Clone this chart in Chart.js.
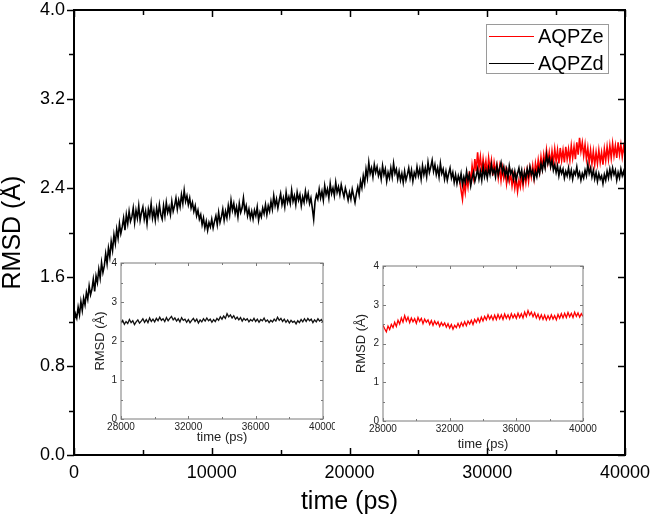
<!DOCTYPE html>
<html>
<head>
<meta charset="utf-8">
<script src="https://cdn.jsdelivr.net/npm/chart.js@4.4.1/dist/chart.umd.min.js"></script>
<style>
  body { margin: 0; background: #fff; }
  #wrap { position: relative; width: 651px; height: 517px; }
  canvas { position: absolute; }
</style>
</head>
<body>
<div id="wrap">
  <canvas id="mainChart" width="651" height="517" style="left:0;top:0"></canvas>
  <canvas id="insetD" width="245" height="200" style="left:90px;top:250px"></canvas>
  <canvas id="insetE" width="250" height="205" style="left:350px;top:250px"></canvas>
</div>
<script>
// ===== DADOS =====
// AQPZd: RMSD (Å) a cada 100 ps, de 0 a 40000 ps (uma linha = 1000 ps)
const aqpzdStart = 0;
const aqpzdStep = 100;
const aqpzdRmsd = [
  1.20, 1.27, 1.23, 1.33, 1.26, 1.38, 1.30, 1.41, 1.35, 1.46,
  1.40, 1.52, 1.44, 1.49, 1.58, 1.47, 1.61, 1.55, 1.67, 1.59,
  1.73, 1.64, 1.70, 1.81, 1.72, 1.86, 1.78, 1.92, 1.84, 1.98,
  1.90, 2.03, 1.95, 2.08, 1.99, 2.05, 2.13, 2.02, 2.16, 2.08,
  2.19, 2.10, 2.14, 2.22, 2.09, 2.20, 2.13, 2.24, 2.11, 2.18,
  2.23, 2.12, 2.19, 2.08, 2.21, 2.15, 2.26, 2.13, 2.20, 2.11,
  2.22, 2.14, 2.25, 2.16, 2.12, 2.24, 2.15, 2.27, 2.18, 2.23,
  2.16, 2.28, 2.19, 2.24, 2.31, 2.21, 2.29, 2.23, 2.34, 2.26,
  2.38, 2.28, 2.33, 2.25, 2.31, 2.22, 2.27, 2.19, 2.24, 2.15,
  2.20, 2.12, 2.16, 2.07, 2.13, 2.04, 2.10, 2.02, 2.09, 2.05,
  2.12, 2.04, 2.10, 2.15, 2.07, 2.18, 2.09, 2.14, 2.21, 2.11,
  2.19, 2.13, 2.24, 2.16, 2.29, 2.20, 2.26, 2.17, 2.23, 2.14,
  2.26, 2.18, 2.22, 2.31, 2.19, 2.24, 2.15, 2.21, 2.13, 2.19,
  2.12, 2.20, 2.15, 2.23, 2.11, 2.18, 2.14, 2.22, 2.17, 2.25,
  2.16, 2.24, 2.19, 2.28, 2.21, 2.33, 2.24, 2.30, 2.22, 2.29,
  2.35, 2.25, 2.31, 2.23, 2.36, 2.27, 2.32, 2.26, 2.38, 2.28,
  2.33, 2.25, 2.36, 2.29, 2.34, 2.24, 2.32, 2.27, 2.37, 2.29,
  2.35, 2.26, 2.31, 2.22, 2.12, 2.28, 2.34, 2.30, 2.39, 2.31,
  2.37, 2.29, 2.42, 2.34, 2.39, 2.31, 2.44, 2.35, 2.40, 2.33,
  2.45, 2.36, 2.41, 2.34, 2.43, 2.37, 2.32, 2.40, 2.35, 2.29,
  2.36, 2.30, 2.39, 2.33, 2.27, 2.35, 2.41, 2.34, 2.46, 2.40,
  2.51, 2.44, 2.57, 2.49, 2.63, 2.53, 2.58, 2.50, 2.61, 2.54,
  2.59, 2.51, 2.56, 2.48, 2.60, 2.52, 2.57, 2.46, 2.54, 2.49,
  2.58, 2.50, 2.62, 2.53, 2.57, 2.48, 2.55, 2.47, 2.53, 2.45,
  2.55, 2.47, 2.52, 2.58, 2.49, 2.56, 2.46, 2.54, 2.50, 2.59,
  2.51, 2.57, 2.48, 2.60, 2.52, 2.58, 2.50, 2.63, 2.54, 2.59,
  2.65, 2.55, 2.61, 2.52, 2.58, 2.50, 2.62, 2.53, 2.57, 2.48,
  2.55, 2.47, 2.53, 2.58, 2.49, 2.54, 2.45, 2.52, 2.44, 2.51,
  2.46, 2.53, 2.43, 2.50, 2.45, 2.55, 2.47, 2.52, 2.42, 2.49,
  2.54, 2.46, 2.51, 2.57, 2.48, 2.55, 2.47, 2.59, 2.50, 2.56,
  2.49, 2.58, 2.52, 2.61, 2.53, 2.57, 2.50, 2.60, 2.52, 2.58,
  2.63, 2.54, 2.59, 2.51, 2.57, 2.49, 2.60, 2.53, 2.56, 2.48,
  2.55, 2.47, 2.53, 2.58, 2.50, 2.56, 2.46, 2.54, 2.49, 2.57,
  2.51, 2.59, 2.52, 2.56, 2.48, 2.55, 2.50, 2.58, 2.53, 2.62,
  2.56, 2.64, 2.58, 2.70, 2.62, 2.67, 2.59, 2.65, 2.56, 2.61,
  2.54, 2.60, 2.51, 2.58, 2.53, 2.57, 2.49, 2.55, 2.51, 2.58,
  2.50, 2.56, 2.48, 2.55, 2.52, 2.59, 2.50, 2.54, 2.47, 2.53,
  2.49, 2.56, 2.51, 2.61, 2.53, 2.58, 2.50, 2.56, 2.48, 2.54,
  2.46, 2.53, 2.48, 2.51, 2.44, 2.52, 2.47, 2.55, 2.49, 2.57,
  2.50, 2.58, 2.52, 2.56, 2.47, 2.54, 2.49, 2.57, 2.51, 2.55,
  2.48
];

// AQPZe: RMSD (Å) a cada 100 ps, de 28000 a 40000 ps
const aqpzeStart = 28000;
const aqpzeStep = 100;
const aqpzeRmsd = [
  2.47, 2.38, 2.30, 2.45, 2.36, 2.49, 2.41, 2.55, 2.44, 2.60,
  2.50, 2.66, 2.55, 2.72, 2.58, 2.68, 2.54, 2.66, 2.56, 2.64,
  2.52, 2.67, 2.57, 2.65, 2.51, 2.63, 2.55, 2.61, 2.49, 2.59,
  2.47, 2.58, 2.49, 2.56, 2.44, 2.54, 2.46, 2.53, 2.42, 2.51,
  2.40, 2.49, 2.37, 2.47, 2.41, 2.52, 2.42, 2.54, 2.45, 2.56,
  2.46, 2.58, 2.50, 2.60, 2.49, 2.62, 2.54, 2.65, 2.55, 2.68,
  2.58, 2.70, 2.61, 2.74, 2.63, 2.72, 2.61, 2.73, 2.62, 2.75,
  2.64, 2.74, 2.62, 2.76, 2.65, 2.74, 2.63, 2.77, 2.66, 2.75,
  2.65, 2.78, 2.67, 2.77, 2.66, 2.81, 2.70, 2.85, 2.73, 2.81,
  2.69, 2.79, 2.66, 2.76, 2.63, 2.74, 2.62, 2.73, 2.61, 2.72,
  2.62, 2.74, 2.63, 2.72, 2.61, 2.75, 2.65, 2.77, 2.66, 2.78,
  2.67, 2.80, 2.69, 2.78, 2.67, 2.81, 2.70, 2.79, 2.68, 2.77,
  2.70
];

// Ticks dos eixos
const mainXTicks = [0, 10000, 20000, 30000, 40000];
const mainYTicks = [0.0, 0.8, 1.6, 2.4, 3.2, 4.0];
const insetXTicks = [28000, 32000, 36000, 40000];
const insetYTicks = [0, 1, 2, 3, 4];

// ===== UTILIDADES =====
function toPoints(values, start, step) {
    return values.map((v, i) => ({ x: start + i * step, y: v }));
}

const aqpzdPoints = toPoints(aqpzdRmsd, aqpzdStart, aqpzdStep);
const aqpzePoints = toPoints(aqpzeRmsd, aqpzeStart, aqpzeStep);

Chart.defaults.font.family = '"Liberation Sans", Arial, sans-serif';
Chart.defaults.color = '#000';

// Moldura e ticks (estilo Origin)
const frameTicks = {
    id: 'frameTicks',
    afterDraw(chart, args, o) {
        const { ctx, chartArea: a, scales: { x, y } } = chart;
        ctx.save();
        ctx.strokeStyle = o.color;
        ctx.lineWidth = o.tickWidth;
        const seg = (x1, y1, x2, y2) => {
            ctx.beginPath();
            ctx.moveTo(x1, y1);
            ctx.lineTo(x2, y2);
            ctx.stroke();
        };
        const isMajor = (v, major) => Math.abs(v / major - Math.round(v / major)) < 1e-6;

        for (let k = 0; x.min + k * o.xMinor <= x.max + 1e-6; k++) {
            const v = x.min + k * o.xMinor;
            const px = Math.round(x.getPixelForValue(v)) + 0.5;
            const len = isMajor(v - x.min, o.xMajor) ? o.majorLen : o.minorLen;
            seg(px, a.bottom, px, a.bottom - len);
            seg(px, a.top, px, a.top + len);
        }
        for (let k = 0; y.min + k * o.yMinor <= y.max + 1e-6; k++) {
            const v = y.min + k * o.yMinor;
            const py = Math.round(y.getPixelForValue(v)) + 0.5;
            const len = isMajor(v, o.yMajor) ? o.majorLen : o.minorLen;
            if (o.leftOut) seg(a.left, py, a.left - len, py);
            else seg(a.left, py, a.left + len, py);
            seg(a.right, py, a.right - len, py);
        }

        ctx.lineWidth = o.frameWidth;
        ctx.strokeRect(a.left, a.top, a.right - a.left, a.bottom - a.top);
        ctx.restore();
    }
};

// Legenda dentro da área do gráfico
const boxLegend = {
    id: 'boxLegend',
    afterDraw(chart, args, o) {
        const { ctx, chartArea: a } = chart;
        const left = a.right - 139;
        const top = a.top + 14;
        ctx.save();
        ctx.strokeStyle = '#9a9a9a';
        ctx.lineWidth = 1;
        ctx.strokeRect(left + 0.5, top + 0.5, 122, 49);
        ctx.font = '20px "Liberation Sans", Arial, sans-serif';
        ctx.textBaseline = 'middle';
        ctx.textAlign = 'left';
        o.entries.forEach((label, i) => {
            const ds = chart.data.datasets.find(d => d.label === label);
            const cy = top + 12 + i * 27;
            ctx.strokeStyle = ds.borderColor;
            ctx.beginPath();
            ctx.moveTo(left + 3, cy + 0.5);
            ctx.lineTo(left + 48, cy + 0.5);
            ctx.stroke();
            ctx.fillStyle = '#000';
            ctx.fillText(label, left + 52, cy + 1);
        });
        ctx.restore();
    }
};

function fixedTicks(values) {
    return function (scale) {
        scale.ticks = values.map(v => ({ value: v }));
    };
}

// Altura/largura fixas do eixo, sem folga extra para os rótulos das pontas
function fitX(h) {
    return s => { s.height = h; s.paddingLeft = 0; s.paddingRight = 0; };
}
function fitY(w) {
    return s => { s.width = w; s.paddingTop = 0; s.paddingBottom = 0; };
}

// ===== GRÁFICO PRINCIPAL =====
new Chart(document.getElementById('mainChart'), {
    type: 'line',
    data: {
        datasets: [
            { label: 'AQPZd', data: aqpzdPoints, borderColor: '#000000', borderWidth: 1.6 },
            { label: 'AQPZe', data: aqpzePoints, borderColor: '#ff0000', borderWidth: 1.6 }
        ]
    },
    plugins: [frameTicks, boxLegend],
    options: {
        responsive: false,
        animation: false,
        devicePixelRatio: 1,
        elements: { point: { radius: 0 }, line: { tension: 0 } },
        layout: { padding: { left: 0, top: 10, right: 26, bottom: 0 } },
        plugins: {
            legend: { display: false },
            tooltip: { enabled: false },
            frameTicks: {
                color: '#000', frameWidth: 2, tickWidth: 1.5,
                xMajor: 10000, xMinor: 5000, yMajor: 0.8, yMinor: 0.4,
                majorLen: 7, minorLen: 5, leftOut: true
            },
            boxLegend: { entries: ['AQPZe', 'AQPZd'] }
        },
        scales: {
            x: {
                type: 'linear',
                min: 0,
                max: 40000,
                afterFit: fitX(62),
                afterBuildTicks: fixedTicks(mainXTicks),
                grid: { display: false, drawTicks: false },
                border: { display: false },
                ticks: { padding: 7, maxRotation: 0, font: { size: 18 }, callback: v => String(v) },
                title: { display: true, text: 'time (ps)', font: { size: 25 }, padding: { top: 0, bottom: 0 } }
            },
            y: {
                type: 'linear',
                min: 0,
                max: 4,
                afterFit: fitY(74),
                afterBuildTicks: fixedTicks(mainYTicks),
                grid: { display: false, drawTicks: false },
                border: { display: false },
                ticks: { padding: 9, font: { size: 18 }, callback: v => v.toFixed(1) },
                title: { display: true, text: 'RMSD (Å)', font: { size: 25, lineHeight: 1.0 }, padding: { top: 1, bottom: 0 } }
            }
        }
    }
});

// ===== GRÁFICOS INSERIDOS =====
function insetChart(id, points, color, box) {
    new Chart(document.getElementById(id), {
        type: 'line',
        data: { datasets: [{ data: points, borderColor: color, borderWidth: 1.3 }] },
        plugins: [frameTicks],
        options: {
            responsive: false,
            animation: false,
            devicePixelRatio: 1,
            elements: { point: { radius: 0 }, line: { tension: 0 } },
            layout: { padding: { left: 0, top: box.top, right: box.right, bottom: 0 } },
            plugins: {
                legend: { display: false },
                tooltip: { enabled: false },
                frameTicks: {
                    color: '#7a7a7a', frameWidth: 1, tickWidth: 1,
                    xMajor: 4000, xMinor: 2000, yMajor: 1, yMinor: 0.5,
                    majorLen: 3, minorLen: 2, leftOut: false
                }
            },
            scales: {
                x: {
                    type: 'linear',
                    min: 28000,
                    max: 40000,
                    afterFit: fitX(box.bottom),
                    afterBuildTicks: fixedTicks(insetXTicks),
                    grid: { display: false, drawTicks: false },
                    border: { display: false },
                    ticks: { padding: 2, maxRotation: 0, color: '#222', font: { size: 10 }, callback: v => String(v) },
                    title: { display: true, text: 'time (ps)', color: '#222', font: { size: 13 }, padding: { top: 0, bottom: box.xTitle } }
                },
                y: {
                    type: 'linear',
                    min: 0,
                    max: 4,
                    afterFit: fitY(box.left),
                    afterBuildTicks: fixedTicks(insetYTicks),
                    grid: { display: false, drawTicks: false },
                    border: { display: false },
                    ticks: { padding: 4, color: '#222', font: { size: 10 }, callback: v => String(v) },
                    title: { display: true, text: 'RMSD (Å)', color: '#222', font: { size: 13 }, padding: { top: box.yTitle, bottom: 0 } }
                }
            }
        }
    });
}

insetChart('insetD', aqpzdPoints.filter(p => p.x >= 28000), '#111111',
    { left: 31, top: 13, right: 12, bottom: 31, xTitle: 5, yTitle: 3 });
insetChart('insetE', aqpzePoints, '#ff0000',
    { left: 33, top: 16, right: 17, bottom: 34, xTitle: 3, yTitle: 4 });
</script>
</body>
</html>
